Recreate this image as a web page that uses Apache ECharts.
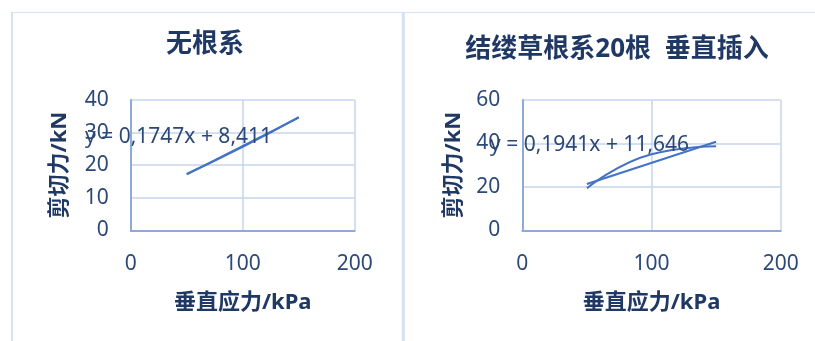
<!DOCTYPE html>
<html>
<head>
<meta charset="utf-8">
<script src="https://cdn.jsdelivr.net/npm/echarts@6/dist/echarts.min.js"></script>
<style>
  html, body { margin: 0; padding: 0; background: #ffffff; }
  #c { width: 815px; height: 341px; }
</style>
</head>
<body>
<div id="c"></div>
<script>
// normal stress (kPa) applied in the direct shear tests
const stressLevels = [50, 100, 150];
// measured shear force (kN), soil without roots
const shearNoRoot = [17.29, 25.58, 34.76];
// measured shear force (kN), 20 zoysia roots inserted vertically
const shearRoot20 = [19.35, 35.06, 38.76];
// linear fits [slope, intercept]
const fitNoRoot = [0.1747, 8.411];
const fitRoot20 = [0.1941, 11.646];
// axis ranges [min, max, interval]
const xRange = [0, 200, 100];
const yRangeNoRoot = [0, 40, 10];
const yRangeRoot20 = [0, 60, 20];
// texts
const panelTitles = ['无根系', '结缕草根系', '20', '根  垂直插入'];
const xAxisName = '垂直应力/kPa';
const yAxisName = '剪切力/kN';

const NAVY = '#203864';
const TICK = '#2B4877';
const LINE = '#4472C4';
const GRID = '#C6D6EE';
const AXIS = '#8EAADB';
const FRAME = '#D6E2F3';
const FONT = '"Noto Sans", "Noto Sans CJK SC", sans-serif';

const pairs = (xs, ys) => xs.map((x, i) => [x, ys[i]]);
const fitLine = (xs, f) => [xs[0], xs[xs.length - 1]].map(x => [x, +(f[0] * x + f[1]).toFixed(4)]);
const eqText = f => 'y = ' + String(f[0]).replace('.', ',') + 'x + ' + String(f[1]).replace('.', ',');

function xAxisCfg(gridIndex) {
  return {
    type: 'value', gridIndex,
    min: xRange[0], max: xRange[1], interval: xRange[2],
    name: xAxisName, nameLocation: 'middle', nameGap: 61,
    nameTextStyle: { color: NAVY, fontSize: 22, fontWeight: 'bold', fontFamily: FONT },
    axisLine: { show: true, lineStyle: { color: AXIS, width: 2 } },
    axisTick: { show: false },
    axisLabel: { color: TICK, fontSize: 21, fontFamily: FONT, margin: 23 },
    splitLine: { show: true, lineStyle: { color: GRID, width: 1.5 } }
  };
}
function yAxisCfg(gridIndex, range, gap) {
  return {
    type: 'value', gridIndex,
    min: range[0], max: range[1], interval: range[2],
    name: yAxisName, nameLocation: 'middle', nameGap: gap,
    nameTextStyle: { color: NAVY, fontSize: 22, fontWeight: 'bold', fontFamily: FONT },
    axisLine: { show: true, onZero: false, lineStyle: { color: AXIS, width: 2 } },
    axisTick: { show: false },
    axisLabel: { color: TICK, fontSize: 21, fontFamily: FONT, margin: 22 },
    splitLine: { show: true, lineStyle: { color: GRID, width: 1.5 } }
  };
}
function lineSeries(idx, data, smooth) {
  return {
    type: 'line', xAxisIndex: idx, yAxisIndex: idx, data,
    smooth, showSymbol: false, symbol: 'none', silent: true,
    lineStyle: { color: LINE, width: 2 }, z: 3
  };
}

const chart = echarts.init(document.getElementById('c'), null, { renderer: 'canvas' });
chart.setOption({
  animation: false,
  backgroundColor: '#ffffff',
  grid: [
    { left: 130.7, top: 100, width: 224, height: 130.3 },
    { left: 522.3, top: 100, width: 258.4, height: 130.3 }
  ],
  xAxis: [xAxisCfg(0), xAxisCfg(1)],
  yAxis: [yAxisCfg(0, yRangeNoRoot, 60), yAxisCfg(1, yRangeRoot20, 58)],
  series: [
    lineSeries(0, pairs(stressLevels, shearNoRoot), 0.5),
    lineSeries(0, fitLine(stressLevels, fitNoRoot), false),
    lineSeries(1, pairs(stressLevels, shearRoot20), 0.5),
    lineSeries(1, fitLine(stressLevels, fitRoot20), false)
  ],
  graphic: [
    // chart frames
    { type: 'line', shape: { x1: 11, y1: 12.5, x2: 815, y2: 12.5 }, style: { stroke: FRAME, lineWidth: 1.2 }, z: 0 },
    { type: 'line', shape: { x1: 12, y1: 12, x2: 12, y2: 341 }, style: { stroke: FRAME, lineWidth: 2 }, z: 0 },
    { type: 'line', shape: { x1: 403.3, y1: 12, x2: 403.3, y2: 341 }, style: { stroke: FRAME, lineWidth: 3 }, z: 0 },
    // panel titles
    { type: 'text', x: 205, y: 45, z: 10,
      style: { text: panelTitles[0], fill: NAVY, fontSize: 26, fontWeight: 'bold', fontFamily: FONT, align: 'center', verticalAlign: 'middle' } },
    { type: 'text', x: 617, y: 50, z: 10,
      style: {
        text: '{a|' + panelTitles[1] + '}{b|' + panelTitles[2] + '}{a|' + panelTitles[3] + '}',
        align: 'center', verticalAlign: 'middle',
        rich: {
          a: { fill: NAVY, color: NAVY, fontSize: 26, fontWeight: 'bold', fontFamily: FONT },
          b: { fill: NAVY, color: NAVY, fontSize: 26, fontFamily: FONT, fontWeight: 'bold' }
        }
      } },
    // trendline equations
    { type: 'text', x: 85, y: 137, z: 10,
      style: { text: eqText(fitNoRoot), fill: TICK, fontSize: 21, fontFamily: FONT, align: 'left', verticalAlign: 'middle' } },
    { type: 'text', x: 490, y: 145, z: 10,
      style: { text: eqText(fitRoot20), fill: TICK, fontSize: 21, fontFamily: FONT, align: 'left', verticalAlign: 'middle' } }
  ]
});
</script>
</body>
</html>
